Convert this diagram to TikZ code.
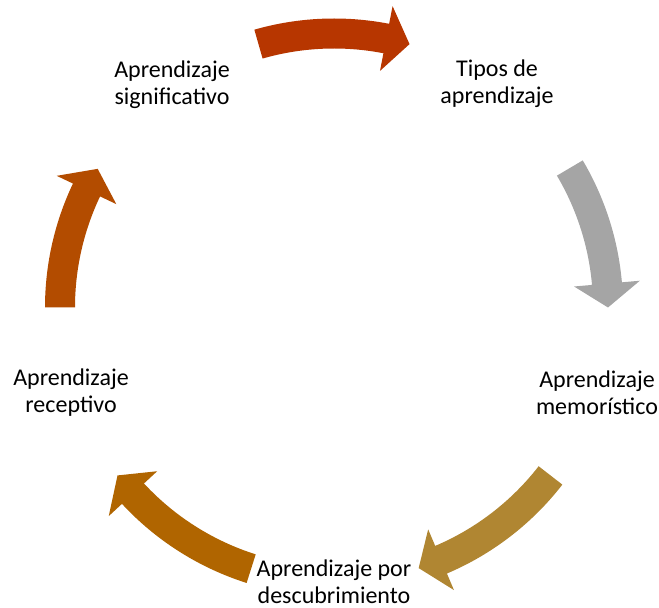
\documentclass[tikz,border=0pt]{standalone}
\usepackage{fontspec}
\setmainfont{Carlito}
\definecolor{arrTop}{RGB}{183,54,0}
\definecolor{arrGrey}{RGB}{165,165,165}
\definecolor{arrGold}{RGB}{176,134,50}
\definecolor{arrBrown}{RGB}{176,101,0}
\definecolor{arrRust}{RGB}{179,76,0}
\begin{document}
\begin{tikzpicture}[x=1pt, y=1pt,
    stage/.style={align=center, inner sep=0pt, font=\fontsize{24}{27}\selectfont}]
    \useasboundingbox (0,0) rectangle (659,608);
    \coordinate (ctr) at (334,300.5);

    % stages of the cycle
    \node[stage] (tipos)  at (497,524) {Tipos de \\ aprendizaje};
    \node[stage] (memo)   at (597,215) {Aprendizaje \\ memorístico};
    \node[stage] (desc)   at (334,26)  {Aprendizaje por \\ descubrimiento};
    \node[stage] (recep)  at (71,215)  {Aprendizaje \\ receptivo};
    \node[stage] (signif) at (172,523) {Aprendizaje \\ significativo};

    % curved block arrows, clockwise
    \begin{scope}[shift={(ctr)}]
      \foreach \s/\e/\col in {106/74/arrTop, 30.6/0/arrGrey, -37.8/-72/arrGold,
                              -107.6/-142.2/arrBrown, 180/149.6/arrRust}
        \fill[\col] (\s:289) arc[start angle=\s, end angle={\e+5}, radius=289]
          -- ({\e+5}:307) -- (\e:274) -- ({\e+5}:241) -- ({\e+5}:259)
          arc[start angle={\e+5}, end angle=\s, radius=259] -- cycle;
    \end{scope}
  \end{tikzpicture}
\end{document}
